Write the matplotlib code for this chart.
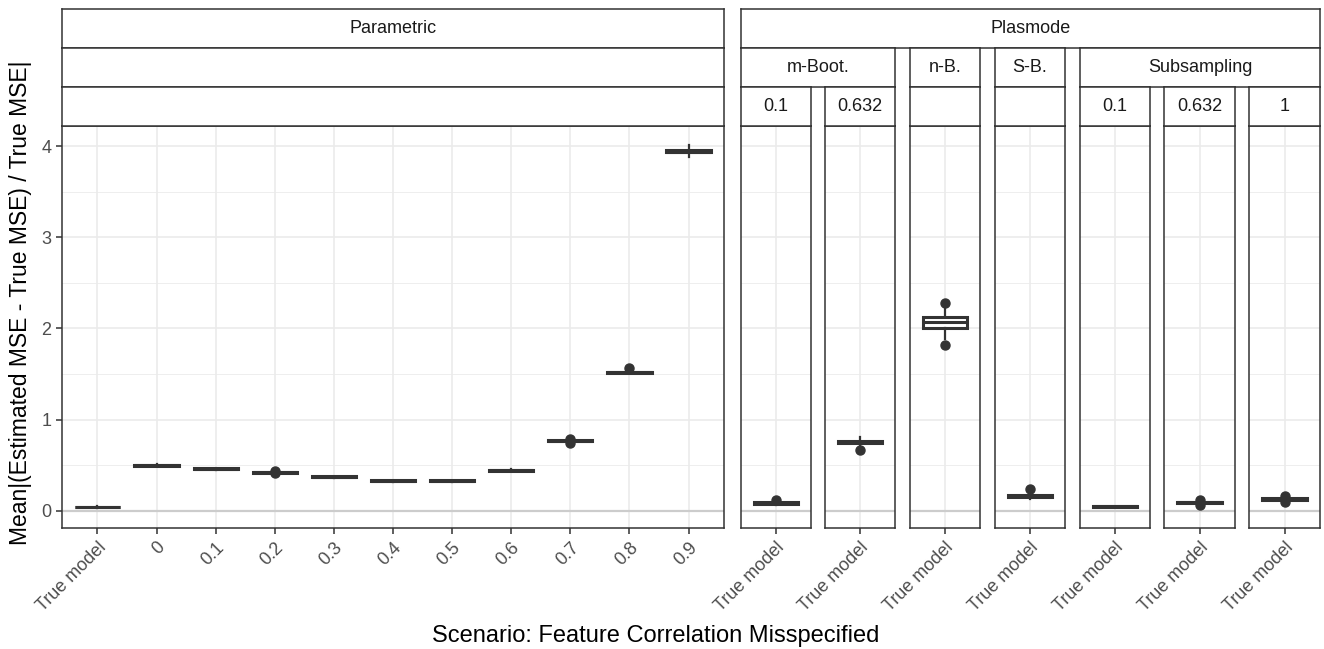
import matplotlib
matplotlib.use('Agg')
import matplotlib.pyplot as plt
from matplotlib.ticker import MultipleLocator

plt.rcParams['font.family'] = ['Liberation Sans', 'DejaVu Sans']

# Parametric scenarios (box statistics per feature correlation)
param_cats = ['True model', '0', '0.1', '0.2', '0.3', '0.4', '0.5', '0.6', '0.7', '0.8', '0.9']
param_med = [0.04, 0.50, 0.46, 0.42, 0.37, 0.33, 0.33, 0.445, 0.765, 1.52, 3.94]
param_q1 = [0.035, 0.495, 0.455, 0.415, 0.365, 0.325, 0.325, 0.44, 0.76, 1.515, 3.93]
param_q3 = [0.045, 0.505, 0.465, 0.425, 0.375, 0.335, 0.335, 0.45, 0.77, 1.525, 3.955]
param_wlo = [0.03, 0.49, 0.45, 0.41, 0.36, 0.32, 0.32, 0.435, 0.75, 1.505, 3.88]
param_whi = [0.05, 0.51, 0.47, 0.43, 0.38, 0.34, 0.34, 0.455, 0.78, 1.535, 4.01]
param_fliers = [[], [], [], [0.41, 0.435], [], [], [], [], [0.74, 0.79], [1.57], []]

# Plasmode scenarios, one box per panel
plas_cats = ['True model'] * 7
plas_med = [0.08, 0.75, 2.065, 0.165, 0.047, 0.09, 0.128]
plas_q1 = [0.075, 0.74, 2.00, 0.155, 0.042, 0.085, 0.12]
plas_q3 = [0.09, 0.76, 2.12, 0.175, 0.052, 0.095, 0.135]
plas_wlo = [0.06, 0.72, 1.88, 0.13, 0.038, 0.07, 0.10]
plas_whi = [0.105, 0.81, 2.23, 0.20, 0.056, 0.11, 0.15]
plas_fliers = [[0.115], [0.67], [1.82, 2.28], [0.235], [], [0.06, 0.12], [0.09, 0.16]]

# strip labels
row1_labels = ['Parametric', 'Plasmode']
row2_labels = ['', 'm-Boot.', 'n-B.', 'S-B.', 'Subsampling']
row3_labels = ['', '0.1', '0.632', '', '', '0.1', '0.632', '1']

W, H = 1324, 649
DARK = '#333333'
TXT = 13


def fbox(x0, y0, x1, y1):
    return [x0 / W, 1 - y1 / H, (x1 - x0) / W, (y1 - y0) / H]


fig = plt.figure(figsize=(W / 100, H / 100), dpi=100)

ytop, ybot = 126, 528
panel_x = [(62, 724), (741, 811), (825, 895), (910, 980), (995, 1065),
           (1080, 1150), (1164, 1235), (1249, 1320)]


def strip(x0, y0, x1, y1, label):
    sa = fig.add_axes(fbox(x0, y0, x1, y1))
    sa.set_xticks([])
    sa.set_yticks([])
    sa.set_facecolor('white')
    for s in sa.spines.values():
        s.set_color(DARK)
        s.set_linewidth(1.1)
    if label:
        sa.text(0.5, 0.5, label, ha='center', va='center', fontsize=TXT,
                color='#1A1A1A', transform=sa.transAxes)


def stats_for(i, med, q1, q3, wlo, whi, fl):
    return dict(med=med[i], q1=q1[i], q3=q3[i], whislo=wlo[i], whishi=whi[i],
                fliers=fl[i])


box_kw = dict(widths=0.75, patch_artist=True, showcaps=False,
              boxprops=dict(facecolor='white', edgecolor=DARK, linewidth=2.2),
              medianprops=dict(color=DARK, linewidth=2.2),
              whiskerprops=dict(color=DARK, linewidth=1.6),
              flierprops=dict(marker='o', markerfacecolor=DARK,
                              markeredgecolor=DARK, markersize=6.5))


def setup_panel(ax, n, labels, first):
    ax.set_xlim(0.4, n + 0.6)
    ax.set_ylim(-0.19, 4.22)
    ax.set_facecolor('white')
    ax.yaxis.set_major_locator(MultipleLocator(1))
    ax.yaxis.set_minor_locator(MultipleLocator(0.5))
    ax.grid(which='major', color='#EBEBEB', linewidth=1.2, zorder=0)
    ax.grid(which='minor', axis='y', color='#EBEBEB', linewidth=0.6, zorder=0)
    ax.set_axisbelow(True)
    ax.axhline(0, color='#CCCCCC', linewidth=1.6, zorder=1)
    ax.set_xticks(range(1, n + 1))
    ax.set_xticklabels(labels, rotation=45, ha='right', rotation_mode='anchor',
                       fontsize=TXT, color='#4D4D4D')
    ax.tick_params(axis='both', which='major', length=4, width=1.1, color=DARK)
    ax.tick_params(axis='y', which='minor', length=0)
    ax.tick_params(axis='x', pad=4)
    if first:
        ax.tick_params(axis='y', labelsize=TXT, labelcolor='#4D4D4D')
    else:
        ax.tick_params(axis='y', which='major', length=0, labelleft=False)
    for s in ax.spines.values():
        s.set_color(DARK)
        s.set_linewidth(1.1)


# Parametric panel
ax = fig.add_axes(fbox(panel_x[0][0], ytop, panel_x[0][1], ybot))
stats = [stats_for(i, param_med, param_q1, param_q3, param_wlo, param_whi, param_fliers)
         for i in range(len(param_cats))]
ax.bxp(stats, positions=range(1, len(param_cats) + 1), **box_kw)
setup_panel(ax, len(param_cats), param_cats, True)
ax.set_ylabel('Mean|(Estimated MSE - True MSE) / True MSE|', fontsize=16.5,
              color='black')
ax.yaxis.set_label_coords(-0.046, 0.56)

# Plasmode panels
for i in range(len(plas_cats)):
    x0, x1 = panel_x[i + 1]
    ax = fig.add_axes(fbox(x0, ytop, x1, ybot))
    ax.bxp([stats_for(i, plas_med, plas_q1, plas_q3, plas_wlo, plas_whi, plas_fliers)],
           positions=[1], **box_kw)
    setup_panel(ax, 1, [plas_cats[i]], False)

# strips: three rows
r1, r2, r3 = (9, 47.5), (47.5, 86.5), (86.5, 126)
strip(62, r1[0], 724, r1[1], row1_labels[0])
strip(741, r1[0], 1320, r1[1], row1_labels[1])
row2_x = [(62, 724), (741, 895), (910, 980), (995, 1065), (1080, 1320)]
for (x0, x1), lab in zip(row2_x, row2_labels):
    strip(x0, r2[0], x1, r2[1], lab)
for (x0, x1), lab in zip(panel_x, row3_labels):
    strip(x0, r3[0], x1, r3[1], lab)

fig.text(656 / W, 1 - 636 / H, 'Scenario: Feature Correlation Misspecified',
         ha='center', va='center', fontsize=17, color='black')

fig.savefig('out.png', dpi=100, facecolor='white')
